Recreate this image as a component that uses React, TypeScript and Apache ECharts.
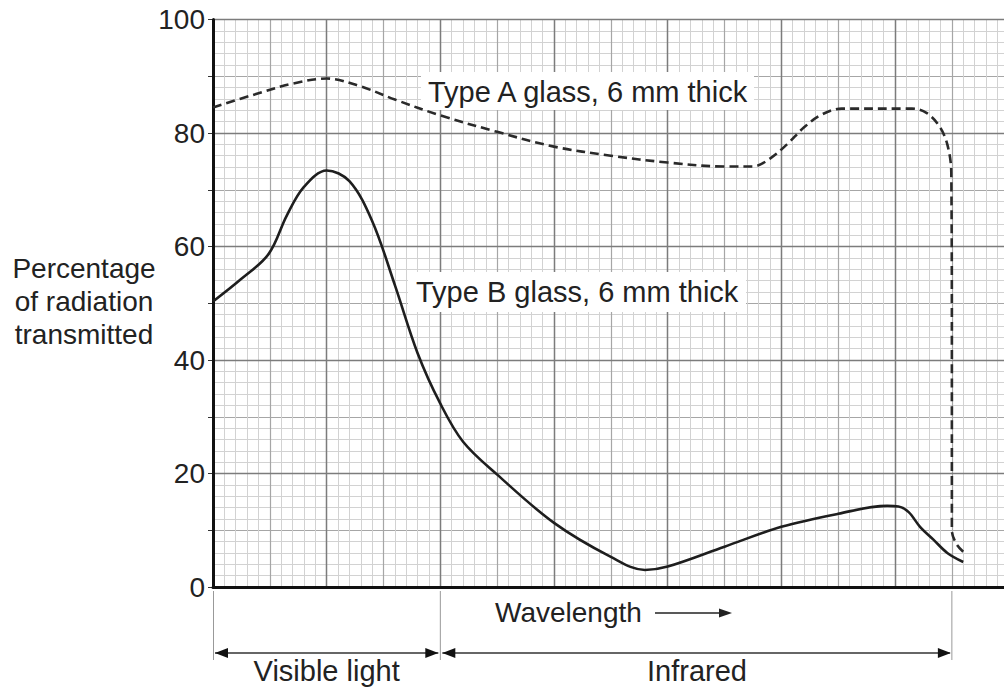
import React, { useEffect, useRef } from "react";
import * as echarts from "echarts";

// x in grid squares (10 squares per major division), y in percent
const typeAX = [0, 4, 7, 10, 13, 16, 20, 25, 30, 35, 40, 45, 47.5, 49, 50.5, 52, 53.5, 55.3, 61.5, 62.8, 63.9, 64.6, 64.95, 65, 65, 65.4, 66];
const typeAY = [84.5, 87.0, 88.7, 89.6, 88.2, 85.9, 83.1, 80.2, 77.6, 76.0, 74.8, 74.1, 74.1, 75.5, 78.0, 81.0, 83.2, 84.3, 84.3, 83.5, 81.2, 78.0, 73.0, 40, 10, 7.6, 6.2];

const typeBX = [0, 2.5, 4.9, 6.5, 8, 10, 12, 14, 16, 18, 20, 22, 25, 30, 35, 38, 40, 45, 50, 55, 59.3, 60.3, 61.2, 62.2, 63.4, 64.6, 66];
const typeBY = [50.3, 54.3, 58.7, 65.5, 70.5, 73.4, 71.5, 64.5, 53.2, 41.2, 32.3, 25.6, 19.8, 11.3, 5.3, 3.0, 3.6, 7.1, 10.6, 12.9, 14.3, 14.2, 13.2, 10.6, 8.3, 6.0, 4.4];

const yTickValues = [0, 20, 40, 60, 80, 100];
const seriesNames = ["Type A glass, 6 mm thick", "Type B glass, 6 mm thick"];
const yAxisTitle = ["Percentage", "of radiation", "transmitted"];
const bandLabels = ["Visible light", "Infrared"];
const xAxisTitle = "Wavelength";

const X_MAX = 70;
const Y_MAX = 100;

const FONT = "'Liberation Sans', Arial, Helvetica, sans-serif";
const TXT = "#222";

function pairs(xs: number[], ys: number[]) {
  return xs.map((x, i) => [x, ys[i]]);
}

export default function App() {
  const ref = useRef<HTMLDivElement>(null);
  useEffect(() => {
    if (!ref.current) return;
    const chart = echarts.init(ref.current, undefined, { renderer: "svg" });
    const gl = 213, gt = 19.5, gw = 795.7, gh = 567.5;
    const arrowY = 653;
    const xs = (s: number) => gl + (s / X_MAX) * gw;
    const xVisEnd = xs(20);
    const xIrEnd = xs(65);
    const option: any = {
      animation: false,
      backgroundColor: "#fff",
      grid: { left: gl, top: gt, width: gw, height: gh, containLabel: false },
      xAxis: [
        {
          type: "value", min: 0, max: X_MAX, interval: 10, position: "bottom", z: 1,
          axisLine: { show: true, onZero: false, lineStyle: { color: "#111", width: 3 } },
          axisTick: { show: false }, axisLabel: { show: false },
          splitLine: { show: true, lineStyle: { color: "#7c7c7c", width: 1.4 } },
        },
        {
          type: "value", min: 0, max: X_MAX, interval: 5, position: "bottom", z: 0,
          axisLine: { show: false }, axisTick: { show: false }, axisLabel: { show: false },
          splitLine: { show: true, lineStyle: { color: "#a6a6a6", width: 1.2 } },
          minorTick: { show: false, splitNumber: 5 },
          minorSplitLine: { show: true, lineStyle: { color: "#d2d2d2", width: 1 } },
        },
      ],
      yAxis: [
        {
          type: "value", min: 0, max: Y_MAX, interval: 20, position: "left", z: 1,
          axisLine: { show: true, onZero: false, lineStyle: { color: "#111", width: 3 } },
          axisTick: { show: false },
          axisLabel: {
            show: true, margin: 8, color: TXT, fontSize: 28, fontFamily: FONT,
            formatter: (v: number) => (yTickValues.includes(v) ? String(v) : ""),
          },
          splitLine: { show: true, lineStyle: { color: "#7c7c7c", width: 1.4 } },
        },
        {
          type: "value", min: 0, max: Y_MAX, interval: 10, position: "left", z: 0,
          axisLine: { show: false },
          axisTick: { show: true, inside: false, length: 5, lineStyle: { color: "#333", width: 1 } },
          axisLabel: { show: false },
          splitLine: { show: true, lineStyle: { color: "#a6a6a6", width: 1.2 } },
          minorTick: { show: false, splitNumber: 5 },
          minorSplitLine: { show: true, lineStyle: { color: "#d2d2d2", width: 1 } },
        },
      ],
      series: [
        {
          name: seriesNames[0], type: "line", xAxisIndex: 0, yAxisIndex: 0, z: 3,
          data: pairs(typeAX, typeAY), showSymbol: false, symbol: "none", smooth: 0.35,
          lineStyle: { color: "#2a2a2a", width: 2.6, type: [9, 5] },
        },
        {
          name: seriesNames[1], type: "line", xAxisIndex: 0, yAxisIndex: 0, z: 3,
          data: pairs(typeBX, typeBY), showSymbol: false, symbol: "none", smooth: 0.35,
          lineStyle: { color: "#1e1e1e", width: 2.6 },
        },
      ],
      graphic: [
        { type: "rect", z: 2, shape: { x: 421, y: 72, width: 333, height: 38 }, style: { fill: "#fff" } },
        { type: "rect", z: 2, shape: { x: 408, y: 272, width: 338, height: 40 }, style: { fill: "#fff" } },
        { type: "text", z: 10, x: 428, y: 92, style: { text: seriesNames[0], font: `29px ${FONT}`, fill: TXT, verticalAlign: "middle", align: "left" } },
        { type: "text", z: 10, x: 416, y: 292, style: { text: seriesNames[1], font: `29px ${FONT}`, fill: TXT, verticalAlign: "middle", align: "left" } },
        { type: "text", z: 10, x: 84, y: 301, style: { text: yAxisTitle.join("\n"), font: `28px ${FONT}`, lineHeight: 33, fill: TXT, verticalAlign: "middle", align: "center" } },
        // Wavelength label & arrow
        { type: "text", z: 10, x: 495, y: 612, style: { text: xAxisTitle, font: `28px ${FONT}`, fill: TXT, verticalAlign: "middle", align: "left" } },
        { type: "line", z: 10, shape: { x1: 655, y1: 613, x2: 722, y2: 613 }, style: { stroke: "#222", lineWidth: 1.5 } },
        { type: "polygon", z: 10, shape: { points: [[732, 613], [719, 608.5], [719, 617.5]] }, style: { fill: "#222" } },
        // band markers
        { type: "line", z: 10, shape: { x1: gl + 0.5, y1: 591, x2: gl + 0.5, y2: 660 }, style: { stroke: "#999", lineWidth: 1 } },
        { type: "line", z: 10, shape: { x1: xVisEnd, y1: 591, x2: xVisEnd, y2: 660 }, style: { stroke: "#999", lineWidth: 1 } },
        { type: "line", z: 10, shape: { x1: xIrEnd, y1: 591, x2: xIrEnd, y2: 660 }, style: { stroke: "#999", lineWidth: 1 } },
        { type: "line", z: 10, shape: { x1: gl + 2, y1: arrowY, x2: xVisEnd - 2, y2: arrowY }, style: { stroke: "#333", lineWidth: 1.4 } },
        { type: "line", z: 10, shape: { x1: xVisEnd + 2, y1: arrowY, x2: xIrEnd - 2, y2: arrowY }, style: { stroke: "#333", lineWidth: 1.4 } },
        { type: "polygon", z: 10, shape: { points: [[gl + 2, arrowY], [gl + 15, arrowY - 5], [gl + 15, arrowY + 5]] }, style: { fill: "#111" } },
        { type: "polygon", z: 10, shape: { points: [[xVisEnd - 2, arrowY], [xVisEnd - 15, arrowY - 5], [xVisEnd - 15, arrowY + 5]] }, style: { fill: "#111" } },
        { type: "polygon", z: 10, shape: { points: [[xVisEnd + 2, arrowY], [xVisEnd + 15, arrowY - 5], [xVisEnd + 15, arrowY + 5]] }, style: { fill: "#111" } },
        { type: "polygon", z: 10, shape: { points: [[xIrEnd - 1, arrowY], [xIrEnd - 14, arrowY - 5], [xIrEnd - 14, arrowY + 5]] }, style: { fill: "#111" } },
        { type: "text", z: 10, x: (gl + xVisEnd) / 2, y: 671, style: { text: bandLabels[0], font: `29px ${FONT}`, fill: TXT, verticalAlign: "middle", align: "center" } },
        { type: "text", z: 10, x: 697, y: 671, style: { text: bandLabels[1], font: `29px ${FONT}`, fill: TXT, verticalAlign: "middle", align: "center" } },
      ],
    };
    chart.setOption(option);
    return () => chart.dispose();
  }, []);
  return (
    <div style={{ position: "fixed", left: 0, top: 0, width: 1004, height: 691, overflow: "hidden", background: "#fff" }}>
      <div ref={ref} style={{ width: 1012, height: 691 }} />
    </div>
  );
}
